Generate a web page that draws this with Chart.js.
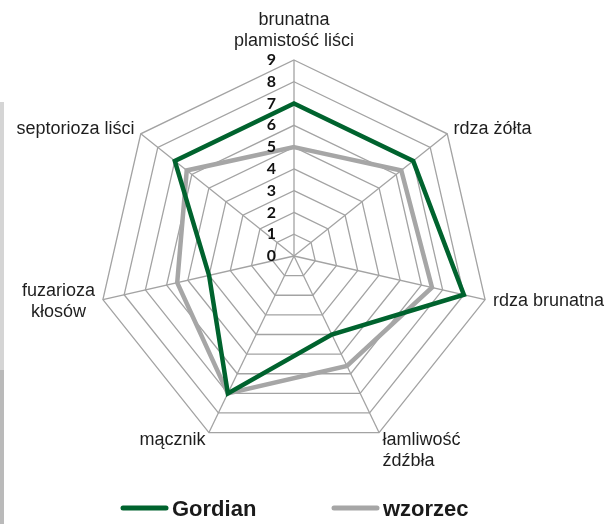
<!DOCTYPE html>
<html>
<head>
<meta charset="utf-8">
<script src="https://cdn.jsdelivr.net/npm/chart.js@4.4.1/dist/chart.umd.min.js"></script>
<style>
  html, body { margin: 0; padding: 0; background: #fff; }
  #wrap { position: relative; width: 608px; height: 524px; }
  .strip { position: absolute; left: 0; width: 4px; }
</style>
</head>
<body>
<div id="wrap">
  <canvas id="radar" width="608" height="524"></canvas>
  <div class="strip" style="top:102px;height:268px;background:#d5d5d5"></div>
  <div class="strip" style="top:370px;height:154px;background:#bababa"></div>
</div>
<script>
var categories = [
  ['brunatna', 'plamistość liści'],
  ['rdza żółta'],
  ['rdza brunatna'],
  ['łamliwość', 'źdźbła'],
  ['mącznik'],
  ['fuzarioza', 'kłosów'],
  ['septorioza liści']
];
var gordian = [7, 7, 8, 4, 7, 4, 7];
var wzorzec = [5, 6.3, 6.5, 5.6, 7, 5.5, 6.3];
var tickLabels = ['0', '1', '2', '3', '4', '5', '6', '7', '8', '9'];

// category names around the web, placed the way Excel does it
var axisText = {
  id: 'axisText',
  afterDraw: function (chart) {
    var s = chart.scales.r;
    var ctx = chart.ctx;
    var lineH = 21;
    ctx.save();
    ctx.font = '18px "Liberation Sans"';
    ctx.fillStyle = '#1e1e1e';
    ctx.textBaseline = 'middle';
    chart.data.labels.forEach(function (lines, i) {
      var p = s.getPointPosition(i, s.drawingArea + 8);
      var a = s.getIndexAngle(i);
      var sin = Math.sin(a), cos = Math.cos(a);
      var blockW = Math.max.apply(null, lines.map(function (t) { return ctx.measureText(t).width; }));
      var y0;
      if (cos > 0.99) y0 = p.y - (lines.length - 0.5) * lineH;
      else if (cos < -0.5) y0 = p.y;
      else y0 = p.y - (lines.length - 1) * lineH / 2;
      lines.forEach(function (t, k) {
        var w = ctx.measureText(t).width;
        var x;
        if (Math.abs(sin) < 0.01) x = p.x - w / 2;
        else if (sin > 0) x = p.x;
        else x = p.x - blockW + (blockW - w) / 2;
        ctx.textAlign = 'left';
        ctx.fillText(t, x, y0 + k * lineH);
      });
    });
    // tick numbers sit left of the vertical axis
    ctx.font = 'bold 16px Lato';
    ctx.fillStyle = '#111';
    ctx.textAlign = 'right';
    s.ticks.forEach(function (t, i) {
      var y = s.yCenter - s.getDistanceFromCenterForValue(t.value);
      ctx.fillText(tickLabels[i], s.xCenter - 18, y);
    });
    ctx.restore();
  }
};

// legend at the bottom, built from the datasets
var bottomLegend = {
  id: 'bottomLegend',
  afterDraw: function (chart) {
    var ctx = chart.ctx;
    var starts = [123, 334];
    ctx.save();
    ctx.font = 'bold 22px "Liberation Sans"';
    ctx.textBaseline = 'alphabetic';
    ctx.textAlign = 'left';
    chart.data.datasets.forEach(function (ds, i) {
      var x = starts[i];
      ctx.strokeStyle = ds.borderColor;
      ctx.lineWidth = 5;
      ctx.lineCap = 'round';
      ctx.beginPath();
      ctx.moveTo(x, 508);
      ctx.lineTo(x + 43, 508);
      ctx.stroke();
      ctx.fillStyle = '#1a1a1a';
      ctx.fillText(ds.label, x + 49, 516);
    });
    ctx.restore();
  }
};

new Chart(document.getElementById('radar'), {
  type: 'radar',
  data: {
    labels: categories,
    datasets: [{
      label: 'Gordian',
      data: gordian,
      borderColor: '#00632e',
      backgroundColor: '#00632e',
      borderWidth: 4.5,
      fill: false,
      pointRadius: 0
    }, {
      label: 'wzorzec',
      data: wzorzec,
      borderColor: '#a6a6a6',
      backgroundColor: '#a6a6a6',
      borderWidth: 4.5,
      fill: false,
      pointRadius: 0
    }]
  },
  options: {
    responsive: false,
    animation: false,
    layout: { padding: { left: 10, right: 30, top: 60, bottom: 72 } },
    scales: {
      r: {
        min: 0,
        max: 9,
        ticks: { stepSize: 1, display: false },
        grid: { color: '#a3a3a3', lineWidth: 1.3 },
        angleLines: { color: '#a3a3a3', lineWidth: 1.3 },
        pointLabels: { display: false }
      }
    },
    plugins: {
      legend: { display: false },
      tooltip: { enabled: false }
    }
  },
  plugins: [axisText, bottomLegend]
});
</script>
</body>
</html>
